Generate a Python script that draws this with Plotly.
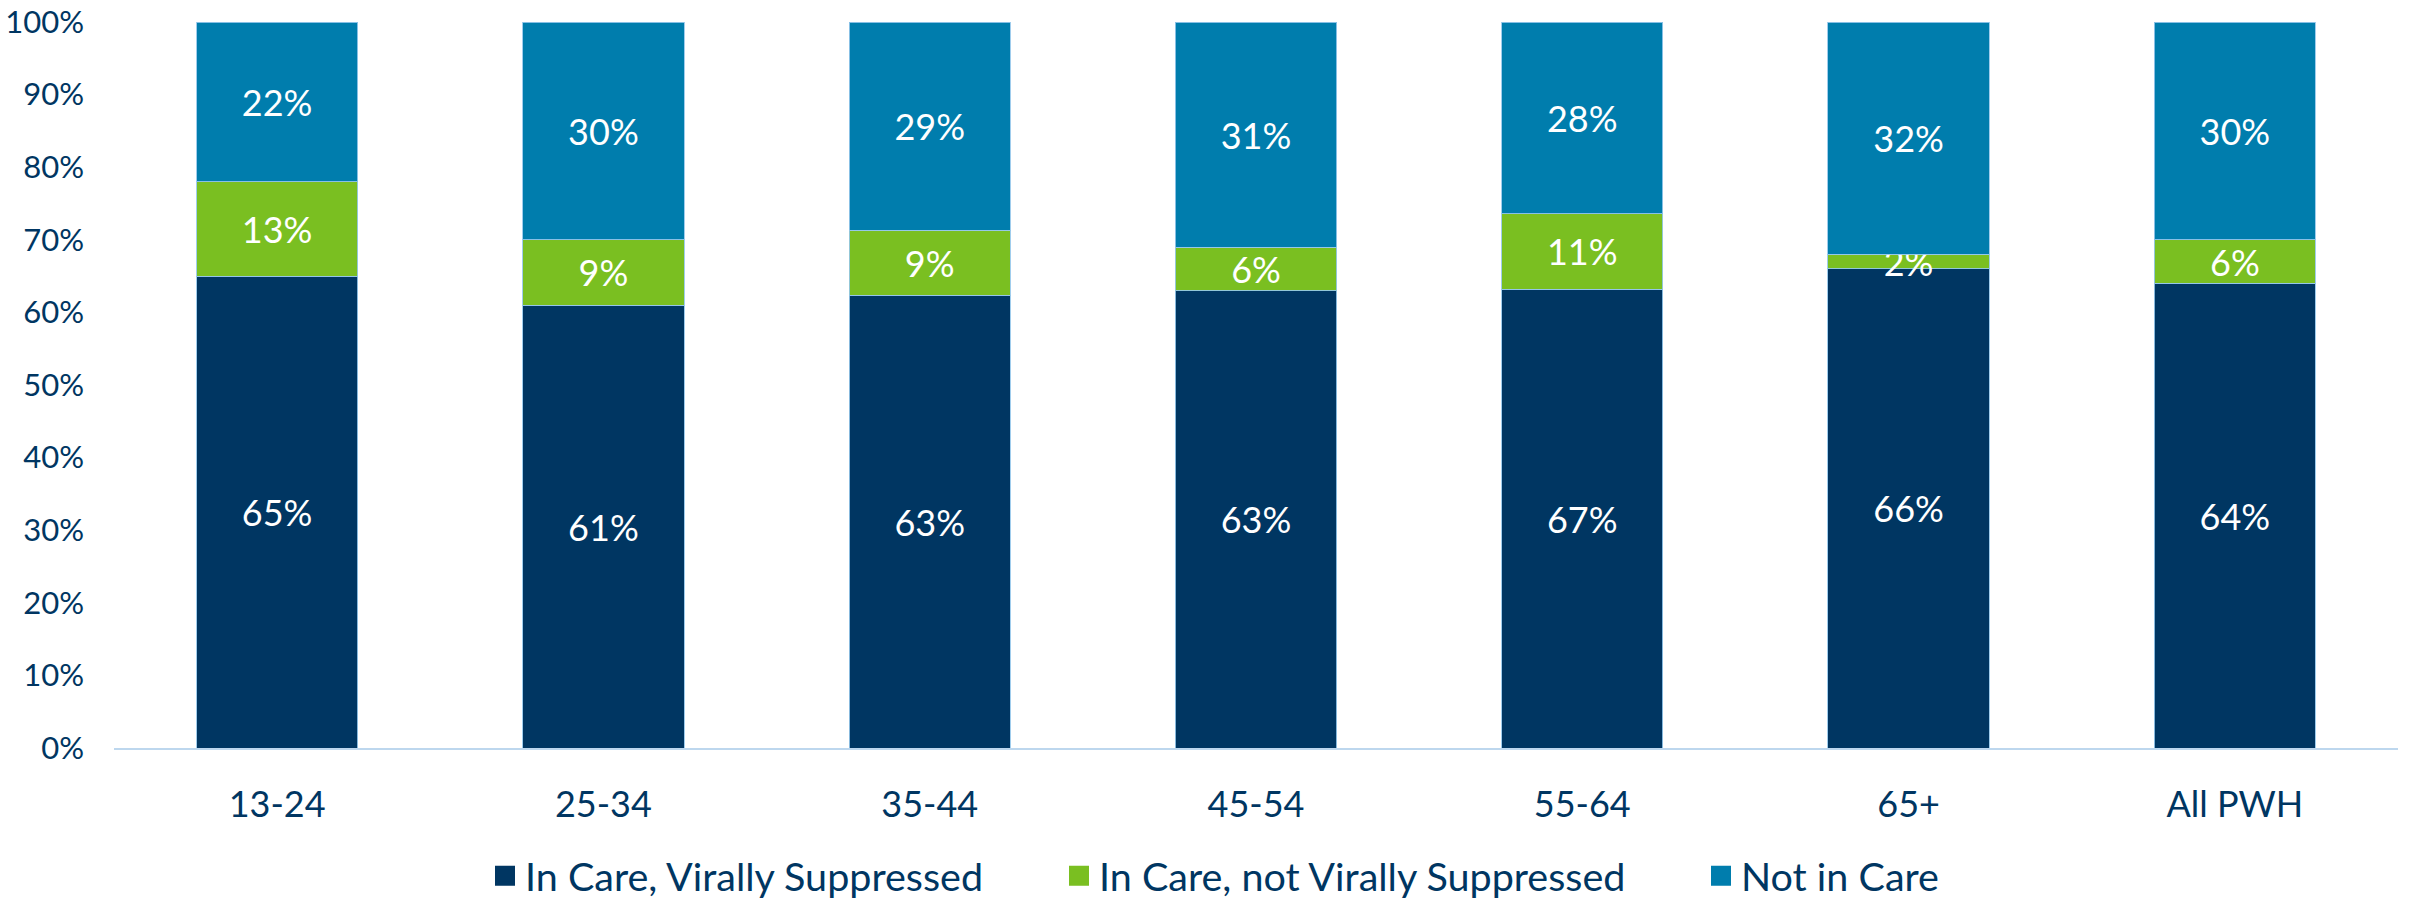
import plotly.graph_objects as go

categories = ["13-24", "25-34", "35-44", "45-54", "55-64", "65+", "All PWH"]
suppressed = [65, 61, 63, 63, 67, 66, 64]
not_suppressed = [13, 9, 9, 6, 11, 2, 6]
not_in_care = [22, 30, 29, 31, 28, 32, 30]
series_names = ["In Care, Virally Suppressed", "In Care, not Virally Suppressed", "Not in Care"]
colors = ["#003662", "#7ABF21", "#007DAD"]
y_ticks = list(range(0, 101, 10))
y_tick_text = [f"{v}%" for v in y_ticks]

FONT = "Lato"
TXT = "#003662"
L, R, T, B = 114, 15, 22, 150
W, H = 2413, 898
PW = W - L - R
PH = H - T - B

fig = go.Figure()
legend_ids = ["legend", "legend2", "legend3"]
legend_left_px = [485, 1059, 1701]
for name, vals, col, lid in zip(series_names, [suppressed, not_suppressed, not_in_care], colors, legend_ids):
    fig.add_trace(go.Bar(
        x=categories, y=vals, name=name,
        marker=dict(color=col, line=dict(color="rgba(150,200,235,0.9)", width=1)),
        text=[f"{v}%" for v in vals],
        textposition="inside", insidetextanchor="middle", textangle=0,
        insidetextfont=dict(color="white", size=36, family=FONT),
        showlegend=False, hoverinfo="skip",
    ))
    fig.add_trace(go.Scatter(
        x=[None], y=[None], mode="markers", name=name, legend=lid,
        marker=dict(symbol="square", size=16, color=col, line=dict(color=col, width=4)),
        showlegend=True,
    ))

legend_common = dict(
    orientation="h", xanchor="left", y=(H - B - 876) / PH, yanchor="middle",
    font=dict(size=39.5, color=TXT, family=FONT), itemsizing="trace",
    bgcolor="rgba(0,0,0,0)", borderwidth=0,
)
layout_legends = {}
for lid, px in zip(legend_ids, legend_left_px):
    layout_legends[lid] = dict(legend_common, x=(px - L) / PW)

fig.update_layout(
    width=W, height=H,
    margin=dict(l=L, r=R, t=T, b=B, autoexpand=False),
    barmode="stack", barnorm="percent", bargap=0.506,
    plot_bgcolor="white", paper_bgcolor="white",
    uniformtext=dict(mode="show", minsize=36),
    font=dict(family=FONT, color=TXT),
    xaxis=dict(
        showline=True, linecolor="#BDD7EE", linewidth=2, showgrid=False,
        tickfont=dict(size=36, color=TXT, family=FONT), ticks="", ticklabelstandoff=24,
    ),
    yaxis=dict(
        range=[0, 100], tickvals=y_ticks, ticktext=y_tick_text, showgrid=False, zeroline=False,
        showline=False, tickfont=dict(size=31, color=TXT, family=FONT), ticks="",
        ticklabelstandoff=29,
    ),
    **layout_legends,
)

fig.write_html(
    "out.html",
    config={"displayModeBar": False},
    post_script="document.body.style.margin='0';document.body.style.overflow='hidden';",
)
